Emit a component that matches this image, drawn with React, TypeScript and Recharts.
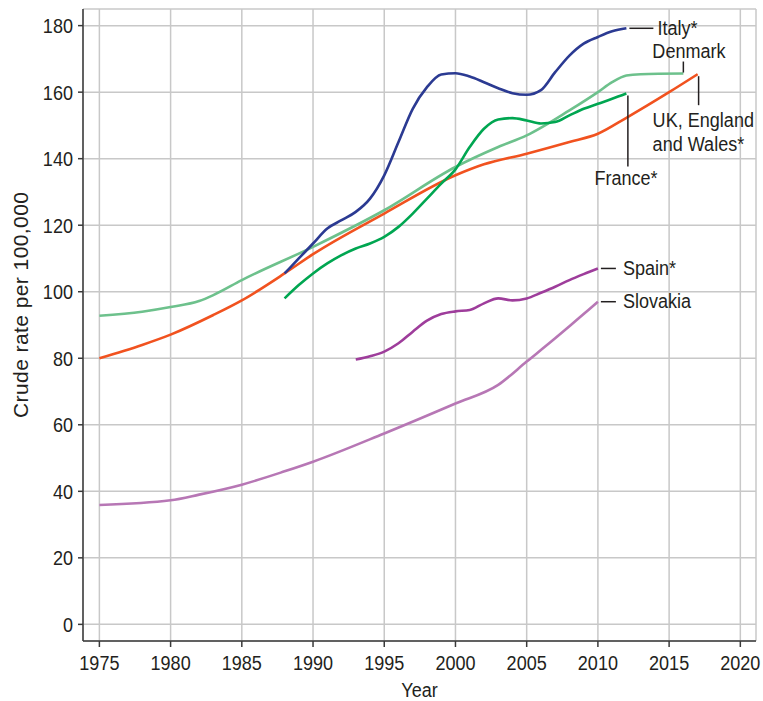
import { LineChart, Line, XAxis, YAxis, CartesianGrid } from 'recharts';

const FONT = "'Liberation Sans', Arial, Helvetica, sans-serif";
const INK = '#231f20';
const SQUEEZE = 0.86; // reference uses a condensed face; squeeze Liberation Sans horizontally

const xTicks = [1975, 1980, 1985, 1990, 1995, 2000, 2005, 2010, 2015, 2020];
const yTicks = [0, 20, 40, 60, 80, 100, 120, 140, 160, 180];

const italyYears = [1988, 1989, 1990, 1991, 1992, 1993, 1994, 1995, 1996, 1997, 1998, 1999, 2000, 2001, 2002, 2003, 2004, 2005, 2006, 2007, 2008, 2009, 2010, 2011, 2012];
const italyRates = [105.5, 110, 114.5, 119, 121.5, 124, 128, 135, 145, 155, 161.5, 165.3, 165.7, 164.7, 163, 161.2, 159.7, 159.2, 160.6, 166, 171, 174.6, 176.6, 178.3, 179.2];

const denmarkYears = [1975, 1978, 1980, 1982, 1983, 1985, 1990, 1995, 2000, 2003, 2005, 2008, 2010, 2011, 2012, 2013, 2016];
const denmarkRates = [92.8, 94, 95.4, 97.2, 99, 103.5, 113.5, 124.5, 137.5, 143.5, 147, 154.5, 160, 163, 165, 165.4, 165.6];

const ukYears = [1975, 1978, 1980, 1983, 1985, 1988, 1990, 1995, 2000, 2002, 2005, 2008, 2010, 2012, 2015, 2017];
const ukRates = [80, 84, 87.1, 93, 97.4, 105.5, 111.3, 123.5, 135, 138.3, 141.5, 145, 147.5, 152.3, 160, 165.4];

const franceYears = [1988, 1989, 1990, 1991, 1992, 1993, 1994, 1995, 1996, 1997, 1998, 1999, 2000, 2001, 2002, 2003, 2004, 2005, 2006, 2007, 2008, 2009, 2010, 2011, 2012];
const franceRates = [98, 102, 105.5, 108.5, 111, 113, 114.5, 116.5, 119.5, 123.5, 128, 132.5, 136.8, 143.5, 149, 151.8, 152.2, 151.5, 150.6, 151, 153, 155, 156.5, 158, 159.6];

const spainYears = [1993, 1994, 1995, 1996, 1997, 1998, 1999, 2000, 2001, 2002, 2003, 2004, 2005, 2006, 2007, 2008, 2009, 2010];
const spainRates = [79.6, 80.6, 82, 84.5, 88, 91.3, 93.3, 94.1, 94.5, 96.5, 98, 97.4, 98, 99.7, 101.5, 103.5, 105.3, 107];

const slovakiaYears = [1975, 1980, 1982, 1985, 1988, 1990, 1995, 2000, 2003, 2005, 2007, 2008, 2009, 2010];
const slovakiaRates = [35.9, 37.3, 39, 42, 46, 48.9, 57.4, 66.4, 72, 79, 86, 89.6, 93.3, 97];

const toRows = (years: number[], rates: number[]) => years.map((year, i) => ({ year, rate: rates[i] }));

const textStyle = { fontFamily: FONT, fontSize: 21, fill: INK };

function NarrowText({ x, y, anchor = 'start', dy, children }: any) {
  return (
    <g transform={`translate(${x} ${y}) scale(${SQUEEZE} 1)`}>
      <text x={0} y={0} dy={dy} textAnchor={anchor} {...textStyle}>{children}</text>
    </g>
  );
}

const XTick = ({ x, y, payload }: any) => <NarrowText x={x} y={y} anchor="middle" dy="0.71em">{payload.value}</NarrowText>;
const YTick = ({ x, y, payload }: any) => <NarrowText x={x} y={y} anchor="end" dy="0.355em">{payload.value}</NarrowText>;

// leader line + name drawn at the last point of each series
function endLabel(kind: string, last: number) {
  return (props: any) => {
    if (props.index !== last) return null;
    const ex = props.viewBox?.x ?? props.x;
    const ey = props.viewBox?.y ?? props.y;
    const lead = { stroke: INK, strokeWidth: 1.5 };
    switch (kind) {
      case 'italy':
        return (
          <g>
            <line x1={ex + 3} y1={ey} x2={ex + 27} y2={ey} {...lead} />
            <NarrowText x={ex + 31} y={ey + 7}>Italy*</NarrowText>
          </g>
        );
      case 'denmark':
        return (
          <g>
            <line x1={ex} y1={ey - 1} x2={ex} y2={ey - 12} {...lead} />
            <NarrowText x={ex - 31} y={ey - 16}>Denmark</NarrowText>
          </g>
        );
      case 'uk':
        return (
          <g>
            <line x1={ex + 1} y1={ey + 2} x2={ex + 1} y2={ey + 31} {...lead} />
            <NarrowText x={ex - 45} y={ey + 53}>UK, England</NarrowText>
            <NarrowText x={ex - 45} y={ey + 77}>and Wales*</NarrowText>
          </g>
        );
      case 'france':
        return (
          <g>
            <line x1={ex + 1.5} y1={ey + 2} x2={ex + 1.5} y2={ey + 73} {...lead} />
            <NarrowText x={ex - 32} y={ey + 92}>France*</NarrowText>
          </g>
        );
      case 'spain':
        return (
          <g>
            <line x1={ex + 3} y1={ey} x2={ex + 18} y2={ey} {...lead} />
            <NarrowText x={ex + 25} y={ey + 7}>Spain*</NarrowText>
          </g>
        );
      default:
        return (
          <g>
            <line x1={ex + 3} y1={ey} x2={ex + 18} y2={ey} {...lead} />
            <NarrowText x={ex + 25} y={ey + 6}>Slovakia</NarrowText>
          </g>
        );
    }
  };
}

const series = [
  { key: 'denmark', years: denmarkYears, rates: denmarkRates, color: '#6dc18c' },
  { key: 'slovakia', years: slovakiaYears, rates: slovakiaRates, color: '#b777b5' },
  { key: 'spain', years: spainYears, rates: spainRates, color: '#9e3d9b' },
  { key: 'uk', years: ukYears, rates: ukRates, color: '#f1521f' },
  { key: 'france', years: franceYears, rates: franceRates, color: '#00a651' },
  { key: 'italy', years: italyYears, rates: italyRates, color: '#2b3a92' },
];

const X_DOMAIN = [1973.85, 2021.1];
const Y_DOMAIN = [-5, 185];
const frame = { stroke: '#3a3a3a', strokeWidth: 1.5 };

export default function App() {
  return (
    <div style={{ position: 'absolute', left: 0, top: 0, background: '#fff' }}>
      <LineChart width={763} height={701} margin={{ top: 9, right: 7, bottom: 0, left: 0 }}>
        <CartesianGrid stroke="#c8c8c8" strokeWidth={1.5} />
        <XAxis
          type="number"
          dataKey="year"
          domain={X_DOMAIN}
          ticks={xTicks}
          allowDataOverflow
          height={60}
          tickSize={6}
          tickMargin={8}
          axisLine={frame}
          tickLine={frame}
          tick={<XTick />}
          label={{
            content: ({ viewBox }: any) => (
              <NarrowText x={viewBox.x + viewBox.width / 2} y={viewBox.y + 56} anchor="middle">Year</NarrowText>
            ),
          }}
        />
        <XAxis xAxisId="top" orientation="top" type="number" domain={X_DOMAIN} height={0} tick={false} tickLine={false} axisLine={frame} />
        <YAxis
          type="number"
          domain={Y_DOMAIN}
          ticks={yTicks}
          allowDataOverflow
          width={83}
          tickSize={5}
          tickMargin={5}
          axisLine={frame}
          tickLine={frame}
          tick={<YTick />}
          label={{
            content: ({ viewBox }: any) => {
              const cx = viewBox.x + 28;
              const cy = viewBox.y + viewBox.height / 2 - 20;
              return (
                <text x={cx} y={cy} transform={`rotate(-90 ${cx} ${cy})`} textAnchor="middle" textLength={226} {...textStyle}>
                  Crude rate per 100,000
                </text>
              );
            },
          }}
        />
        <YAxis yAxisId="right" orientation="right" type="number" domain={Y_DOMAIN} width={0} tick={false} tickLine={false} axisLine={frame} />
        {series.map((s) => (
          <Line
            key={s.key}
            data={toRows(s.years, s.rates)}
            dataKey="rate"
            type="monotone"
            stroke={s.color}
            strokeWidth={2.6}
            dot={false}
            activeDot={false}
            isAnimationActive={false}
            label={endLabel(s.key, s.years.length - 1)}
          />
        ))}
      </LineChart>
    </div>
  );
}
